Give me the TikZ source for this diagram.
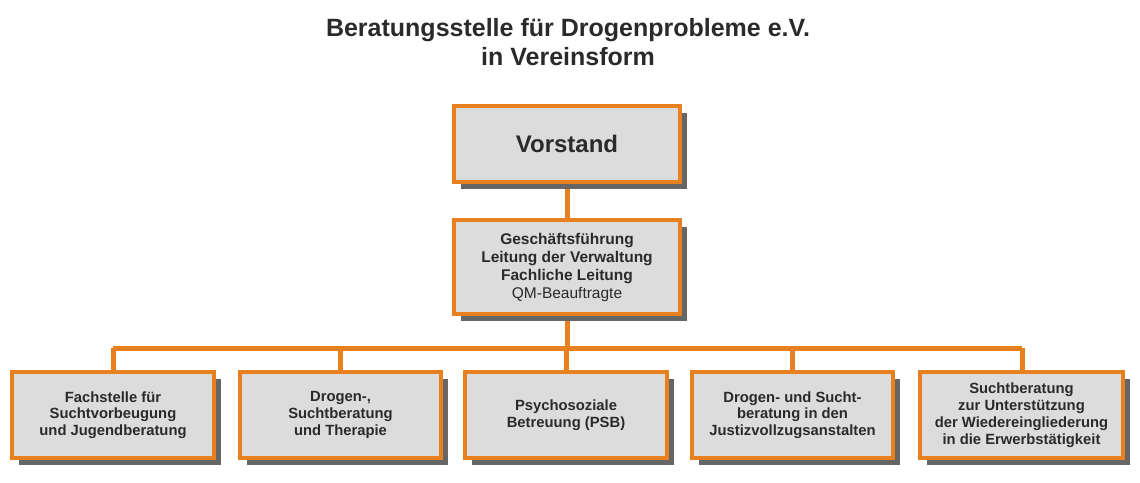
\documentclass[tikz,border=0pt]{standalone}
\usepackage{fontspec}
\setmainfont{Liberation Sans}
\begin{document}
\begin{tikzpicture}[x=1pt,y=-1pt,
  ob/.style={draw=orgc,line width=4pt,fill=boxg,align=center,text=txtc,inner sep=0pt,
    font=\bfseries\fontsize{14.8}{16.8}\selectfont},
  sh/.style={fill=black!60},
  ln/.style={draw=orgc,line width=5pt}]
\definecolor{orgc}{HTML}{E8801F}
\definecolor{boxg}{HTML}{DCDCDC}
\definecolor{txtc}{HTML}{2A2A2A}
\useasboundingbox (0,0) rectangle (1140,482);
\node[text=txtc,font=\bfseries\fontsize{25}{29}\selectfont,align=center] (title) at (568,42) {Beratungsstelle für Drogenprobleme e.V.\\in Vereinsform};
\coordinate (hl) at (113,348); \coordinate (hr) at (1022,348);
\coordinate (hm) at (567,348);
\node (v) at (567,144) {};
\draw[ln] (v.center) -- (hm);
\draw[ln] (hl) -- (hr);
\foreach \x/\n in {113/a,340/b,566/c,792/d,1022/e}{
  \coordinate (t\n) at (\x,348);
  \draw[ln] (t\n) -- (\x,415);
}
\foreach \a/\b/\c/\d in {454/106/680/182,454/220/680/314,12/372/214/458,240/372/441/458,465/372/667/458,692/372/893/458,920/372/1123/458}{
  \fill[sh] (\a+7,\b+7) rectangle (\c+7,\d+7);
}
\node[ob,minimum width=226pt,minimum height=76pt,font=\bfseries\fontsize{24}{28}\selectfont] (vorstand) at (567,144) {Vorstand};
\node[ob,minimum width=226pt,minimum height=94pt,font=\bfseries\fontsize{15.5}{18}\selectfont] (gf) at (567,267) {Geschäftsführung\\Leitung der Verwaltung\\Fachliche Leitung\\{\mdseries QM-Beauftragte}};
\node[ob,minimum width=202pt,minimum height=86pt] (b1) at (113,415) {Fachstelle für\\Suchtvorbeugung\\und Jugendberatung};
\node[ob,minimum width=201pt,minimum height=86pt] (b2) at (340.5,415) {Drogen-,\\Suchtberatung\\und Therapie};
\node[ob,minimum width=202pt,minimum height=86pt] (b3) at (566,415) {Psychosoziale\\Betreuung (PSB)};
\node[ob,minimum width=201pt,minimum height=86pt] (b4) at (792.5,415) {Drogen- und Sucht-\\beratung in den\\Justizvollzugsanstalten};
\node[ob,minimum width=203pt,minimum height=86pt] (b5) at (1021.5,415) {Suchtberatung\\zur Unterstützung\\der Wiedereingliederung\\in die Erwerbstätigkeit};
\end{tikzpicture}
\end{document}
